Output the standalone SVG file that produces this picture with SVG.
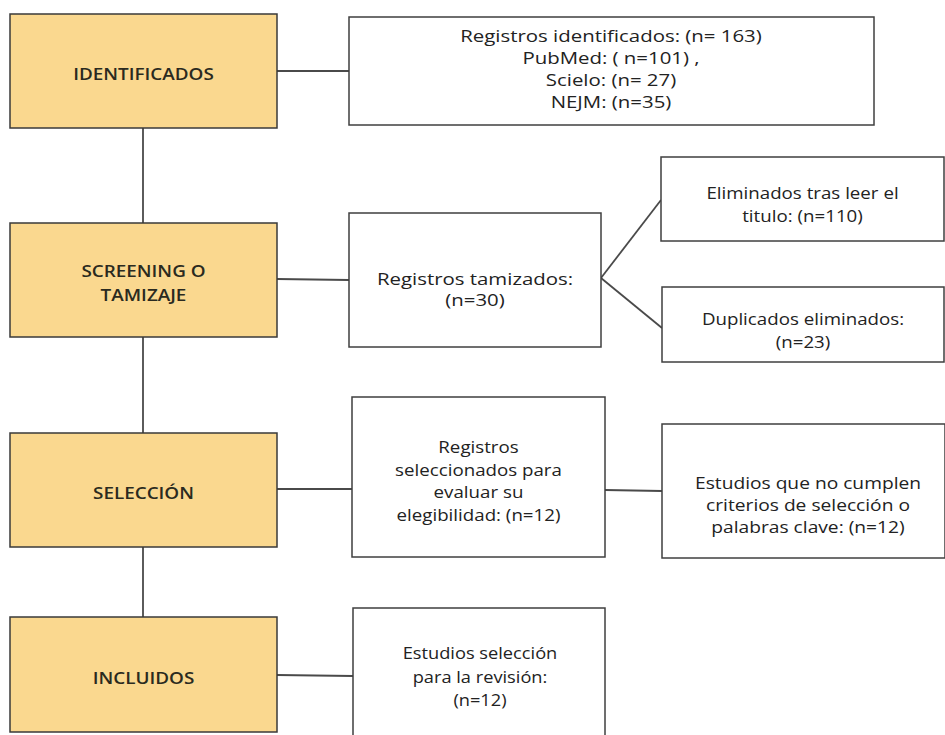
<svg xmlns="http://www.w3.org/2000/svg" width="945" height="735" viewBox="0 0 945 735">
  <style>
    .stage { fill: #fad88f; stroke: #3a3a3a; stroke-width: 1.5; }
    .box { fill: #ffffff; stroke: #3f3f3f; stroke-width: 1.5; }
    .stxt { font-family: "Open Sans", "Liberation Sans", sans-serif; font-size: 16px; font-weight: 600; fill: #2a2a20; text-anchor: middle; }
    .txt { font-family: "Open Sans", "Liberation Sans", sans-serif; font-size: 16px; font-weight: 500; fill: #222222; text-anchor: middle; }
    .big { font-size: 17px; }
    .conn { stroke: #4a4a4a; stroke-width: 1.8; fill: none; }
  </style>
  <rect width="945" height="735" fill="#ffffff"/>
  <g id="connectors">
    <line class="conn" x1="143" y1="128" x2="143" y2="223"/>
    <line class="conn" x1="143" y1="337" x2="143" y2="433"/>
    <line class="conn" x1="143" y1="547" x2="143" y2="617"/>
    <line class="conn" x1="277" y1="71" x2="349" y2="71"/>
    <line class="conn" x1="277" y1="279" x2="349" y2="280"/>
    <line class="conn" x1="277" y1="489" x2="352" y2="489"/>
    <line class="conn" x1="277" y1="675" x2="353" y2="676"/>
    <line class="conn" x1="605" y1="490" x2="662" y2="491"/>
    <line class="conn" x1="601" y1="278" x2="661" y2="200"/>
    <line class="conn" x1="601" y1="278" x2="662" y2="328"/>
  </g>
  <g id="identificados">
    <rect class="stage" x="10" y="14" width="267" height="114"/>
    <g transform="translate(143.5 0) scale(1.18 1)">
      <text class="stxt" x="0" y="80">IDENTIFICADOS</text>
    </g>
  </g>
  <g id="screening">
    <rect class="stage" x="10" y="223" width="267" height="114"/>
    <g transform="translate(143.5 0) scale(1.18 1)">
      <text class="stxt" x="0" y="277">SCREENING O</text>
      <text class="stxt" x="0" y="301">TAMIZAJE</text>
    </g>
  </g>
  <g id="seleccion">
    <rect class="stage" x="10" y="433" width="267" height="114"/>
    <g transform="translate(143.5 0) scale(1.18 1)">
      <text class="stxt" x="0" y="499">SELECCIÓN</text>
    </g>
  </g>
  <g id="incluidos">
    <rect class="stage" x="10" y="617" width="267" height="115"/>
    <g transform="translate(143.5 0) scale(1.18 1)">
      <text class="stxt" x="0" y="684">INCLUIDOS</text>
    </g>
  </g>
  <g id="registros-identificados">
    <rect class="box" x="349" y="17" width="525" height="108"/>
    <g transform="translate(611 0) scale(1.2 1)">
      <text class="txt big" x="0" y="42">Registros identificados: (n= 163)</text>
      <text class="txt big" x="0" y="64">PubMed: ( n=101) ,</text>
      <text class="txt big" x="0" y="86">Scielo: (n= 27)</text>
      <text class="txt big" x="0" y="108">NEJM: (n=35)</text>
    </g>
  </g>
  <g id="registros-tamizados">
    <rect class="box" x="349" y="213" width="252" height="134"/>
    <g transform="translate(475 0) scale(1.2 1)">
      <text class="txt big" x="0" y="285">Registros tamizados:</text>
      <text class="txt big" x="0" y="306">(n=30)</text>
    </g>
  </g>
  <g id="eliminados">
    <rect class="box" x="661" y="157" width="283" height="84"/>
    <g transform="translate(802.5 0) scale(1.17 1)">
      <text class="txt" x="0" y="199">Eliminados tras leer el</text>
      <text class="txt" x="0" y="222">titulo: (n=110)</text>
    </g>
  </g>
  <g id="duplicados">
    <rect class="box" x="662" y="287" width="282" height="75"/>
    <g transform="translate(803 0) scale(1.17 1)">
      <text class="txt" x="0" y="325">Duplicados eliminados:</text>
      <text class="txt" x="0" y="348">(n=23)</text>
    </g>
  </g>
  <g id="registros-seleccionados">
    <rect class="box" x="352" y="397" width="253" height="160"/>
    <g transform="translate(478.5 0) scale(1.17 1)">
      <text class="txt" x="0" y="453">Registros</text>
      <text class="txt" x="0" y="476">seleccionados para</text>
      <text class="txt" x="0" y="498">evaluar su</text>
      <text class="txt" x="0" y="521">elegibilidad: (n=12)</text>
    </g>
  </g>
  <g id="no-cumplen">
    <rect class="box" x="662" y="424" width="283" height="134"/>
    <g transform="translate(808 0) scale(1.2 1)">
      <text class="txt" x="0" y="489">Estudios que no cumplen</text>
      <text class="txt" x="0" y="511">criterios de selección o</text>
      <text class="txt" x="0" y="533">palabras clave: (n=12)</text>
    </g>
  </g>
  <g id="incluidos-estudios">
    <rect class="box" x="353" y="608" width="252" height="140"/>
    <g transform="translate(480 0) scale(1.14 1)">
      <text class="txt" x="0" y="659">Estudios selección</text>
      <text class="txt" x="0" y="683">para la revisión:</text>
      <text class="txt" x="0" y="706">(n=12)</text>
    </g>
  </g>
</svg>
